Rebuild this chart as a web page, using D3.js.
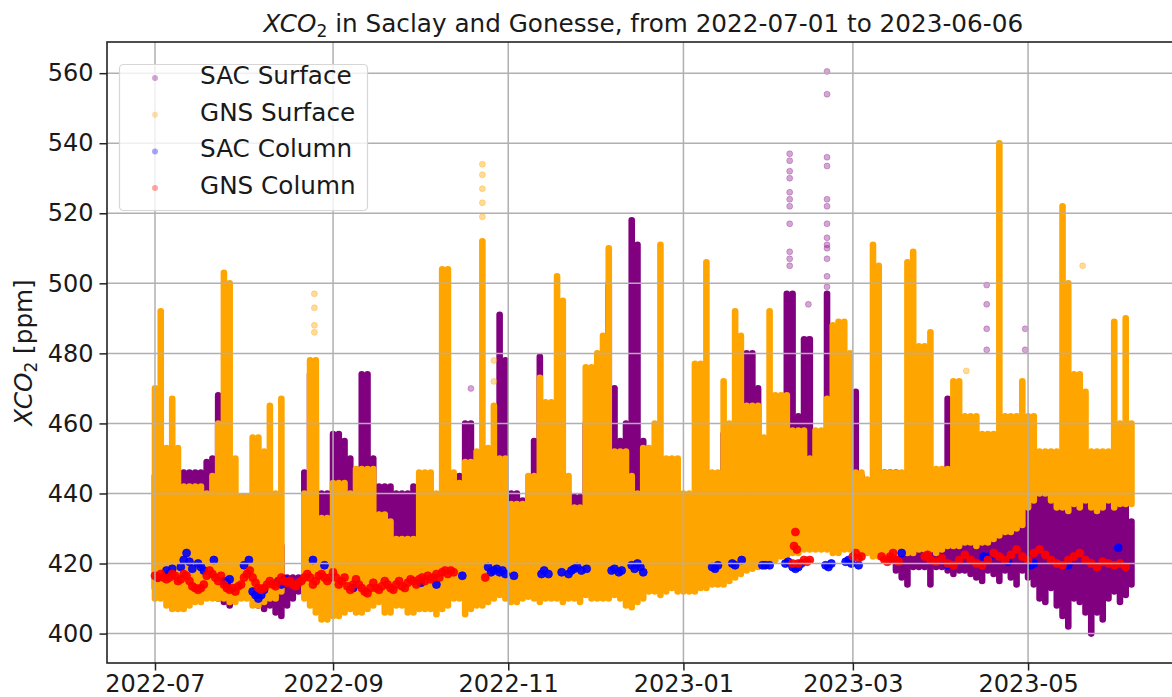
<!DOCTYPE html>
<html>
<head>
<meta charset="utf-8">
<script src="https://cdn.jsdelivr.net/npm/d3@7"></script>
<style>
  body { margin: 0; background: #fff; }
  svg { display: block; font-family: "DejaVu Sans", sans-serif; }
</style>
</head>
<body>
<svg id="chart" width="1172" height="697"></svg>
<script>
// ---------------------------------------------------------------------------
// Data (days counted from 2022-07-01, values in ppm)
// ---------------------------------------------------------------------------

// surface series, read every 2 days: lower / upper edge of the cloud of points
const surfDays = d3.range(0, 341, 2);

const sacLow = [
  413, 413, 412, 412, 412, 411, 410, 410, 411, 411,
  412, 410, 409, 408, 410, 412, 412, 410, 408, 407,
  408, 406, 405, 408, 410, 412, 413, 413, 413, 413,
  413, 413, 413, 413, 413, 412, 412, 412, 411, 410,
  410, 412, 413, 412, 413, 413, 414, 414, 414, 414,
  414, 414, 414, 414, 414, 414, 414, 414, 415, 415,
  415, 415, 415, 415, 415, 415, 415, 415, 415, 415,
  415, 415, 415, 415, 415, 415, 415, 415, 415, 415,
  415, 415, 415, 415, 415, 415, 415, 416, 416, 416,
  416, 416, 416, 416, 417, 417, 417, 418, 418, 418,
  419, 420, 421, 422, 423, 424, 424, 424, 424, 424,
  424, 424, 424, 425, 425, 425, 425, 425, 425, 425,
  425, 425, 425, 424, 424, 424, 424, 424, 421, 418,
  416, 414, 419, 419, 419, 414, 419, 419, 418, 417,
  418, 418, 417, 416, 415, 418, 417, 415, 418, 416,
  414, 418, 416, 414, 410, 409, 413, 408, 405, 402,
  410, 409, 406, 400, 406, 404, 410, 412, 409, 411,
  414
];
const sacHigh = [
  445, 440, 440, 440, 440, 446, 446, 446, 446, 449,
  450, 468, 450, 440, 439, 439, 439, 430, 430, 430,
  430, 430, 425, 416, 416, 416, 446, 474, 460, 440,
  440, 457, 457, 455, 450, 445, 474, 474, 450, 442,
  442, 442, 440, 440, 440, 442, 442, 445, 440, 438,
  440, 436, 442, 445, 460, 460, 440, 440, 445, 440,
  491, 478, 440, 440, 438, 440, 455, 479, 465, 450,
  445, 440, 440, 439, 439, 460, 470, 470, 478, 500,
  470, 455, 460, 518, 511, 455, 450, 445, 445, 445,
  442, 440, 436, 436, 440, 440, 440, 440, 440, 457,
  457, 440, 440, 480, 480, 470, 440, 440, 440, 450,
  497, 497, 462, 484, 484, 450, 450, 497, 460, 450,
  450, 469, 469, 445, 440, 440, 440, 446, 446, 446,
  440, 435, 435, 445, 445, 440, 445, 445, 467, 460,
  445, 440, 440, 442, 450, 450, 440, 445, 440, 440,
  455, 460, 455, 452, 450, 443, 443, 443, 445, 445,
  443, 443, 443, 442, 442, 442, 442, 445, 440, 438,
  432
];
const gnsLow = [
  410, 410, 408, 407, 407, 407, 408, 409, 409, 410,
  410, 410, 410, 409, 409, 410, 410, 408, 408, 409,
  410, 410, 412, null, null, null, 410, 408, 406, 404,
  404, 405, 405, 406, 407, 406, 406, 407, 408, 409,
  406, 406, 408, 408, 406, 406, 407, 407, 407, 405.5,
  407, 408, 410, 410, 405.5, 407, 408, 408, 409, 410,
  411, 410, 409, 409, 410, 410.5, 410, 409, 410, 410,
  410, 409, 410, 410, 409, 411, 410, 410, 410, 410,
  411, 410, 408, 407.5, 409, 410, 412, 412, 411, 412,
  413, 412, 412, 412, 412, 413, 413, 414, 414, 414,
  415, 416, 417, 418, 418.5, 419, 420, 421, 421, 422,
  422, 423, 423, 424, 424, 424, 424, 424, 423, 423,
  424, 424, 424, 423, 423, 422, 422, 423, 423, 423,
  423, 423, 423, 424, 424, 424, 423, 424, 425, 425,
  425, 426, 426, 425, 426, 426, 427, 428, 429, 429,
  430, 431, 436, 438, 440, 440, 438, 436, 436, 435,
  437, 436, 438, 436, 435, 436, 438, 436, 437, 437,
  437
];
const gnsHigh = [
  470, 492, 453, 467, 453, 442, 442, 442, 442, 440,
  445, 460, 503, 500, 450, 439, 439, 456, 456, 452,
  465, 440, 467, null, null, null, 440, 478, 478, 433,
  433, 443, 443, 443, 440, 447, 447, 447, 447, 434,
  434, 432, 427, 427, 427, 427, 446, 446, 446, 440,
  504, 504, 446, 443, 449, 449, 452, 512, 453, 465,
  450, 450, 437, 437, 437, 445, 445, 473, 466, 466,
  502, 495, 445, 436, 436, 476, 476, 480, 485, 510,
  452, 452, 452, 445, 440, 453, 453, 460, 511, 450,
  450, 450, 440, 440, 477, 477, 506, 446, 446, 472,
  460, 492, 485, 465, 465, 465, 456, 492, 468, 468,
  468, 458, 458, 458, 450, 458, 458, 467, 488, 489,
  489, 480, 446, 446, 444, 511, 505, 446, 446, 446,
  446, 506, 509, 482, 482, 486, 447, 447, 447, 472,
  472, 462, 462, 462, 457, 457, 457, 540, 462, 462,
  462, 472, 462, 462, 452, 452, 452, 452, 522, 500,
  474, 474, 469, 452, 452, 452, 452, 489, 460, 490,
  460
];

// isolated surface points above the dense cloud
const sacOutDay = [221, 221, 221, 221, 221, 221, 221, 221, 221, 221, 221,
  234, 234, 234, 234, 234, 234, 234, 234, 234, 234, 234, 234, 234,
  227.5, 227.5, 289.6, 289.6, 289.6, 289.6, 303, 303, 110, 54.5, 54.5];
const sacOutVal = [537, 535, 532, 530, 526, 524, 522, 517, 509, 507, 505,
  560.5, 554, 536, 533.5, 524, 522, 517, 513, 511, 510, 507, 502, 499,
  494, 484, 499.5, 494, 487, 481, 487, 481, 470, 470, 466];
const gnsOutDay = [55.5, 55.5, 55.5, 55.5, 114, 114, 114, 114, 114, 118, 118, 323, 282.5];
const gnsOutVal = [497, 493, 488, 486, 534, 531, 527, 523, 519, 478, 472, 505, 475];

// column series
const sacColDay = [1, 4, 5, 6, 9, 10, 11, 12, 13, 15, 16, 17, 20.5, 24, 25, 26, 31, 32.7,
  34, 35, 36, 37, 38, 43, 44, 45, 55, 59, 69, 92.6, 98, 107, 116, 117, 118, 119, 120,
  121, 122, 125, 134.6, 135.5, 137, 141.6, 144, 145, 146, 147, 148.5, 150.3, 159, 160,
  161.5, 162.5, 166, 167, 168, 169, 170, 194, 195, 196, 201, 202, 204.3, 211.5, 212.5,
  214, 219.5, 220.5, 222, 223, 224, 225, 233.5, 234.5, 235.5, 240.5, 241.5, 242.5, 245,
  260, 276, 288.5, 289.5, 290.5, 297, 305, 306, 318, 335.4];
const sacColVal = [416, 418, 417, 418.5, 419, 421, 423, 420.5, 418.5, 420, 419, 418, 421,
  415, 414.5, 415.5, 419.5, 421, 412, 411, 410, 411, 412.5, 415, 414, 415.5, 421, 419.5,
  413, 414.5, 414, 416.5, 419, 417.5, 418, 418.5, 417.5, 418, 417, 416.5, 417, 418, 417,
  417.5, 417, 418, 418.5, 419, 418, 418.5, 418, 418.5, 417.5, 418, 419.5, 418.5, 420,
  419, 417.5, 419, 418.5, 419.5, 420, 419.5, 421, 419.5, 419.5, 419.5, 420, 420.5, 419,
  418.5, 419, 420, 419.5, 419, 420, 420.5, 421, 420, 419.5, 423, 419.5, 422, 421.5, 422,
  420.5, 419.5, 420, 419.5, 424.5];

const gnsColDay = [
  0, 1, 2, 3, 4, 5, 6, 7, 8, 9, 10, 11, 12, 13, 14, 15, 16, 17, 18, 19,
  20, 21, 22, 23, 24, 25, 26, 27, 28, 29, 30, 31, 32, 33, 34, 35, 36, 37, 38, 39,
  40, 41, 42, 43, 44, 45, 46, 47, 48, 49, 50, 51, 52, 53, 54, 55, 56, 57, 58, 59,
  60, 61, 62, 63, 64, 65, 66, 67, 68, 69, 70, 71, 72, 73, 74, 75, 76, 77, 78, 79,
  80, 81, 82, 83, 84, 85, 86, 87, 88, 89, 90, 91, 92, 93, 94, 95, 96, 97, 98, 99,
  100, 101, 102, 103, 104, 115, 222, 222.5, 223, 223.5, 224, 226, 227, 228,
  243, 244, 245, 246, 253, 254, 255, 256, 257, 258, 259, 268, 269, 270, 272, 274,
  276, 278, 280, 282, 284, 286, 288, 290, 292, 294, 296, 298, 300, 302, 304, 306,
  308, 310, 312, 314, 316, 318, 320, 322, 324, 326, 328, 330, 332, 334, 336, 338];
const gnsColVal = [
  416.5, 416, 417, 416, 415.5, 416, 417, 416.5, 415, 415.5, 417, 416.5, 415, 413.5, 413, 412.5, 413, 414, 416.5, 418,
  417, 416, 415, 416.5, 414, 413, 412.5, 413, 412, 413.5, 414, 416, 417, 418, 416, 414.5, 413, 412.5, 413, 414,
  415, 414, 413.5, 415, 416, 415, 414.5, 415, 414, 413.5, 414.5, 415, 416, 417, 416, 414, 415, 416.5, 417, 416,
  415, 416, 417.5, 416, 414, 415, 416, 413.5, 412.5, 414, 415.5, 414, 413, 412, 411.5, 413, 414.5, 413, 412.5, 413.5,
  415, 414, 413, 412.5, 414, 415, 413.5, 413, 414.5, 415.5, 415, 414, 415.5, 416, 415, 416.5, 415.5, 416, 417, 416,
  417.5, 418, 417, 418, 417.5, 416, 420, 425, 429, 424, 420, 421, 420.5, 421,
  422, 423, 421.5, 422, 422, 421, 420.5, 422, 423, 421, 420.5, 422, 422.5, 421, 420.5, 421.5,
  420, 419.5, 421, 422.5, 421, 420, 419.5, 421, 423, 422, 421, 422.5, 424, 422, 421, 423,
  424, 422.5, 421, 420, 419.5, 421, 422, 423, 421, 420, 419, 420.5, 420, 419.5, 420, 419];

// labels
const seriesNames = ['SAC Surface', 'GNS Surface', 'SAC Column', 'GNS Column'];
const seriesColors = ['#800080', '#ffa500', '#0000ff', '#ff0000'];
const xTickDates = ['2022-07-01', '2022-09-01', '2022-11-01', '2023-01-01', '2023-03-01', '2023-05-01'];
const yTicks = [400, 420, 440, 460, 480, 500, 520, 540, 560];

// ---------------------------------------------------------------------------
// Layout
// ---------------------------------------------------------------------------
const svg = d3.select('#chart');
const margin = { left: 107, top: 42, right: 1179.5, bottom: 663 };
const tickFont = 24;
const textFont = 24.7;

const t0 = Date.UTC(2022, 6, 1);
const toDate = d => new Date(t0 + d * 864e5);

const x = d3.scaleUtc()
  .domain([toDate(-16.71), toDate(356.73)])
  .range([margin.left, margin.right]);
const y = d3.scaleLinear()
  .domain([391.6, 568.9])
  .range([margin.bottom, margin.top]);

svg.append('defs').append('clipPath').attr('id', 'plot-clip')
  .append('rect')
  .attr('x', margin.left).attr('y', margin.top)
  .attr('width', margin.right - margin.left)
  .attr('height', margin.bottom - margin.top);

const plot = svg.append('g').attr('clip-path', 'url(#plot-clip)');

// surface clouds: vertical runs of dots from low to high
function drawSurface(low, high, color) {
  const rows = surfDays
    .map((d, i) => ({ d, lo: low[i], hi: high[i] }))
    .filter(r => r.lo != null && r.hi != null);
  plot.append('g').selectAll('line')
    .data(rows)
    .join('line')
    .attr('x1', r => x(toDate(r.d)))
    .attr('x2', r => x(toDate(r.d)))
    .attr('y1', r => y(r.lo))
    .attr('y2', r => y(r.hi))
    .attr('stroke', color)
    .attr('stroke-width', 6.6)
    .attr('stroke-linecap', 'round');
}

function drawDots(days, vals, color, r, opacity) {
  plot.append('g').selectAll('circle')
    .data(days.map((d, i) => [d, vals[i]]))
    .join('circle')
    .attr('cx', p => x(toDate(p[0])))
    .attr('cy', p => y(p[1]))
    .attr('r', r)
    .attr('fill', color)
    .attr('fill-opacity', opacity)
    .attr('stroke', color)
    .attr('stroke-opacity', opacity)
    .attr('stroke-width', 0.8);
}

drawSurface(sacLow, sacHigh, seriesColors[0]);
drawDots(sacOutDay, sacOutVal, seriesColors[0], 3, 0.35);
drawSurface(gnsLow, gnsHigh, seriesColors[1]);
drawDots(gnsOutDay, gnsOutVal, seriesColors[1], 3, 0.4);
drawDots(sacColDay, sacColVal, seriesColors[2], 4, 0.9);
drawDots(gnsColDay, gnsColVal, seriesColors[3], 4, 0.9);

// grid (matplotlib draws it above the scatter)
const xTicks = xTickDates.map(s => new Date(s + 'T00:00:00Z'));
const grid = svg.append('g').attr('stroke', '#b0b0b0').attr('stroke-width', 1.5);
grid.selectAll('.gx').data(xTicks).join('line')
  .attr('x1', d => x(d)).attr('x2', d => x(d))
  .attr('y1', margin.top).attr('y2', margin.bottom);
grid.selectAll('.gy').data(yTicks).join('line')
  .attr('x1', margin.left).attr('x2', margin.right)
  .attr('y1', d => y(d)).attr('y2', d => y(d));

// axes
const xAxis = svg.append('g')
  .attr('transform', `translate(0,${margin.bottom})`)
  .call(d3.axisBottom(x).tickValues(xTicks).tickFormat(d3.utcFormat('%Y-%m'))
    .tickSizeInner(7.5).tickSizeOuter(0).tickPadding(4));
const yAxis = svg.append('g')
  .attr('transform', `translate(${margin.left},0)`)
  .call(d3.axisLeft(y).tickValues(yTicks).tickFormat(d3.format('d'))
    .tickSizeInner(7.5).tickSizeOuter(0).tickPadding(6));

[xAxis, yAxis].forEach(a => {
  a.select('.domain').remove();
  a.selectAll('.tick line').attr('stroke', '#222').attr('stroke-width', 1.5);
  a.selectAll('.tick text')
    .attr('fill', '#1a1a1a')
    .style('font-family', '"DejaVu Sans", sans-serif')
    .style('font-size', tickFont + 'px');
});

// spines
svg.append('rect')
  .attr('x', margin.left).attr('y', margin.top)
  .attr('width', margin.right - margin.left)
  .attr('height', margin.bottom - margin.top)
  .attr('fill', 'none')
  .attr('stroke', '#222')
  .attr('stroke-width', 1.6);

// title
const title = svg.append('text')
  .attr('x', (margin.left + margin.right) / 2)
  .attr('y', 31.5)
  .attr('text-anchor', 'middle')
  .attr('font-size', textFont)
  .attr('fill', '#1a1a1a');
title.append('tspan').attr('font-style', 'italic').text('XCO');
title.append('tspan').attr('font-size', 17).attr('dy', 5).text('2');
title.append('tspan').attr('dy', -5).text(' in Saclay and Gonesse, from 2022-07-01 to 2023-06-06');

// y label
const ylab = svg.append('text')
  .attr('transform', `translate(32,${(margin.top + margin.bottom) / 2}) rotate(-90)`)
  .attr('text-anchor', 'middle')
  .attr('font-size', textFont)
  .attr('fill', '#1a1a1a');
ylab.append('tspan').attr('font-style', 'italic').text('XCO');
ylab.append('tspan').attr('font-size', 17).attr('dy', 5).text('2');
ylab.append('tspan').attr('dy', -5).text(' [ppm]');

// legend
const legend = svg.append('g');
legend.append('rect')
  .attr('x', 119.5).attr('y', 64.5)
  .attr('width', 248).attr('height', 146)
  .attr('rx', 4)
  .attr('fill', '#fff').attr('fill-opacity', 0.8)
  .attr('stroke', '#d6d6d6').attr('stroke-width', 1.2);
const items = legend.selectAll('g.item')
  .data(seriesNames)
  .join('g')
  .attr('transform', (d, i) => `translate(0,${78 + i * 36.7})`);
items.append('circle')
  .attr('cx', 155).attr('cy', 0).attr('r', 3)
  .attr('fill', (d, i) => seriesColors[i])
  .attr('fill-opacity', 0.35);
items.append('text')
  .attr('x', 200).attr('y', 6)
  .attr('font-size', textFont)
  .attr('fill', '#1a1a1a')
  .text(d => d);
</script>
</body>
</html>
